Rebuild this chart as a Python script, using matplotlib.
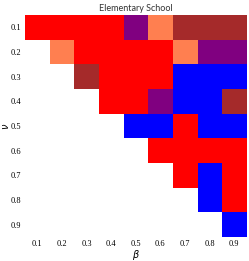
import numpy as np
import matplotlib.pyplot as plt
from matplotlib.colors import ListedColormap

beta_labels = ['0.1', '0.2', '0.3', '0.4', '0.5', '0.6', '0.7', '0.8', '0.9']
nu_labels = ['0.1', '0.2', '0.3', '0.4', '0.5', '0.6', '0.7', '0.8', '0.9']

# category per cell: 0 red, 1 blue, 2 purple, 3 coral, 4 brown, -1 empty
row_01 = [0, 0, 0, 0, 2, 3, 4, 4, 4]
row_02 = [-1, 3, 0, 0, 0, 0, 3, 2, 2]
row_03 = [-1, -1, 4, 0, 0, 0, 1, 1, 1]
row_04 = [-1, -1, -1, 0, 0, 2, 1, 1, 4]
row_05 = [-1, -1, -1, -1, 1, 1, 0, 1, 1]
row_06 = [-1, -1, -1, -1, -1, 0, 0, 0, 0]
row_07 = [-1, -1, -1, -1, -1, -1, 0, 1, 0]
row_08 = [-1, -1, -1, -1, -1, -1, -1, 1, 0]
row_09 = [-1, -1, -1, -1, -1, -1, -1, -1, 1]

grid = np.array([row_01, row_02, row_03, row_04, row_05,
                 row_06, row_07, row_08, row_09], dtype=float)
grid = np.ma.masked_where(grid < 0, grid)

cmap = ListedColormap(['#ff0000', '#0000ff', '#800080', '#ff7f50', '#a52a2a'])

fig = plt.figure(figsize=(2.49, 2.61), dpi=100)
ax = fig.add_axes([25 / 249, 24 / 261, 221.5 / 249, 222 / 261])
ax.imshow(grid, cmap=cmap, vmin=-0.5, vmax=4.5, aspect='auto',
          interpolation='nearest')

ax.set_xticks(range(9))
ax.set_xticklabels(beta_labels, family='Liberation Serif', fontsize=6)
ax.set_yticks(range(9))
ax.set_yticklabels(nu_labels, family='Liberation Serif', fontsize=6)
ax.tick_params(axis='x', length=0, pad=2.5)
ax.tick_params(axis='y', length=0, pad=2.5)
for s in ax.spines.values():
    s.set_visible(False)

ax.set_xlabel(r'$\beta$', fontsize=7, labelpad=0)
ax.set_ylabel(r'$\nu$', fontsize=7, labelpad=0)
ax.set_title('Elementary School', family='Lato', fontsize=6.5,
             color='#333333', pad=3)

fig.savefig('out.png', dpi=100)
